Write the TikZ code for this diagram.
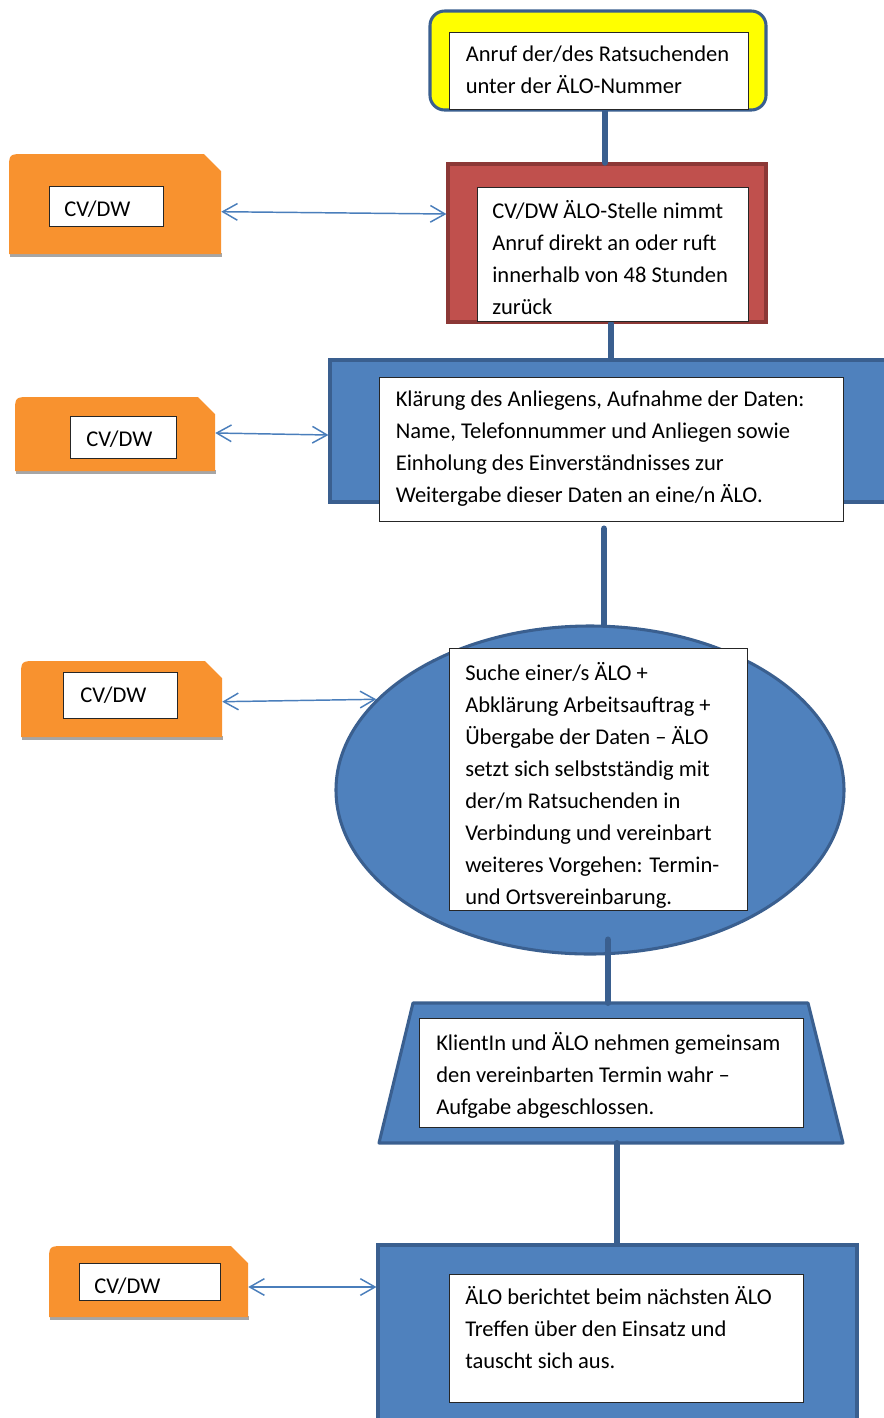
\documentclass[tikz,border=0pt]{standalone}
\usepackage{fontspec}
\setmainfont{Carlito}
\usetikzlibrary{fit,shapes.geometric,arrows.meta}
\definecolor{yellowC}{HTML}{FFFF00}
\definecolor{navyC}{HTML}{3A5F8F}
\definecolor{redC}{HTML}{C0504D}
\definecolor{redBorderC}{HTML}{8C3836}
\definecolor{blueC}{HTML}{4F81BD}
\definecolor{orangeC}{HTML}{F8922F}
\definecolor{shadowC}{HTML}{A6A6A6}
\definecolor{arrowC}{HTML}{4A7EBB}
\newcommand\bxfont{\fontsize{16.9}{24}\selectfont}
\newcommand\orshape[5]{%
  \fill[shadowC] (#1+1,#4-1) rectangle (#3+1,#4+3);
  \fill[orangeC] (#1,#4) -- (#1,#2+16) .. controls (#1,#2) .. (#1+16,#2) -- (#3-17,#2) -- (#3,#2+17) -- (#3,#4) -- cycle;
  \node[inner sep=0, fit={(#1,#2) (#3,#4)}] (#5) {};
}
\begin{document}
\begin{tikzpicture}[x=0.75pt,y=-0.75pt,
  wbox/.style={draw=black!85, line width=0.6pt, fill=white, inner sep=0},
  txt/.style={anchor=north west, inner sep=0, align=left, font=\bxfont, execute at begin node=\strut},
  conn/.style={draw=navyC, line width=4.9pt, line cap=round},
  dbl/.style={draw=arrowC, line width=1.1pt, {Straight Barb[length=11pt,width=12.5pt]}-{Straight Barb[length=11pt,width=12.5pt]}},
  shapeline/.style={line width=2.3pt}]
\useasboundingbox (0,0) rectangle (884,1418);

% main shapes
\node[shapeline, draw=navyC, fill=yellowC, rounded corners=11pt, inner sep=0, fit={(430,11) (766,110)}] (s1) {};
\node[shapeline, draw=redBorderC, fill=redC, inner sep=0, fit={(448,164) (766,322)}] (s2) {};
\node[shapeline, draw=navyC, fill=blueC, inner sep=0, fit={(330,360) (896,502)}] (s3) {};
\node[shapeline, draw=navyC, fill=blueC, ellipse, inner sep=0, minimum width=381pt, minimum height=246pt] (s4) at (590,790) {};
\node[inner sep=0, fit={(379,1003) (843,1143)}] (s5) {};
\draw[shapeline, draw=navyC, fill=blueC, line join=round] (413,1003) -- (808,1003) -- (843,1143) -- (379,1143) -- cycle;
\node[shapeline, draw=navyC, fill=blueC, inner sep=0, fit={(378,1245) (857,1430)}] (s6) {};

% orange side shapes
\orshape{9}{154}{221}{254}{o1}
\orshape{15}{397}{215}{471}{o2}
\orshape{21}{661}{222}{737}{o3}
\orshape{49}{1246}{248}{1317}{o4}

% connectors
\draw[conn] (605,0 |- s1.south) -- (605,0 |- s2.north);
\draw[conn] (611,0 |- s2.south) -- (611,0 |- s3.north);
\node[wbox, fit={(379,377) (843,521)}] (w3) {};
\draw[conn, shorten <=5.5pt] (604,0 |- w3.south) -- (604,0 |- s4.north);
\node[wbox, fit={(449,648) (747,910)}] (w4) {};
\draw[conn, shorten <=22pt] (608,0 |- w4.south) -- (608,0 |- s5.north);
\draw[conn] (617,0 |- s5.south) -- (617,0 |- s6.north);

% white boxes
\node[wbox, fit={(449,32) (748,109)}] (w1) {};
\node[wbox, fit={(477,187) (748,321)}] (w2) {};
\node[wbox, fit={(419,1018) (803,1127)}] (w5) {};
\node[wbox, fit={(449,1274) (803,1402)}] (w6) {};
\node[wbox, fit={(49,186) (163,226)}] (ow1) {};
\node[wbox, fit={(70,416) (176,458)}] (ow2) {};
\node[wbox, fit={(63,672) (177,718)}] (ow3) {};
\node[wbox, fit={(79,1263) (220,1300)}] (ow4) {};

% texts
\node[txt] (t1) at (465.5,45.8) {Anruf der/des Ratsuchenden\\unter der ÄLO-Nummer};
\node[txt] (t2) at (492,200.1) {CV/DW ÄLO-Stelle nimmt\\Anruf direkt an oder ruft\\innerhalb von 48 Stunden\\zurück};
\node[txt] (t3) at (395.5,390.6) {Klärung des Anliegens, Aufnahme der Daten:\\Name, Telefonnummer und Anliegen sowie\\Einholung des Einverständnisses zur\\Weitergabe dieser Daten an eine/n ÄLO.};
\node[txt] (t4) at (465,662.4) {Suche einer/s ÄLO +\\Abklärung Arbeitsauftrag +\\Übergabe der Daten – ÄLO\\setzt sich selbstständig mit\\der/m Ratsuchenden in\\Verbindung und vereinbart\\weiteres Vorgehen: Termin-\\und Ortsvereinbarung.};
\node[txt] (t5) at (436,1032.4) {KlientIn und ÄLO nehmen gemeinsam\\den vereinbarten Termin wahr –\\Aufgabe abgeschlossen.};
\node[txt] (t6) at (465,1286.6) {ÄLO berichtet beim nächsten ÄLO\\Treffen über den Einsatz und\\tauscht sich aus.};
\node[txt] (q1) at (64,193.6) {CV/DW};
\node[txt] (q2) at (86,423.6) {CV/DW};
\node[txt] (q3) at (80,679.8) {CV/DW};
\node[txt] (q4) at (94,1270.6) {CV/DW};

% double arrows
\draw[dbl] (o1.east |- 0,211.7) -- (s2.west |- 0,214);
\draw[dbl] (o2.east |- 0,433) -- (s3.west |- 0,435);
\draw[dbl] (o3.east |- 0,701.7) -- (s4.157.6);
\draw[dbl] (o4.east |- 0,1287) -- (s6.west |- 0,1287);
\end{tikzpicture}
\end{document}
